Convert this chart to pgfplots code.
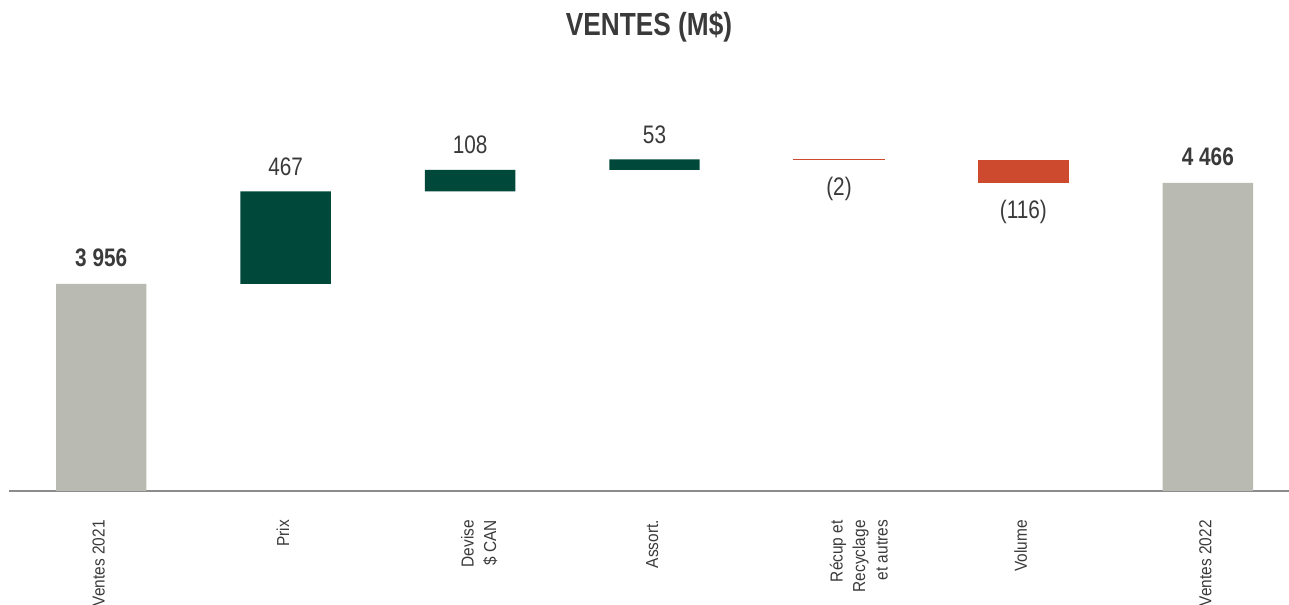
\documentclass[border=0pt]{standalone}
\usepackage{fontspec}
\setmainfont{Liberation Sans}[FakeStretch=0.82]
\newfontfamily\tickfont{Liberation Sans}[FakeStretch=0.89]
\usepackage{pgfplots}
\pgfplotsset{compat=1.18}
\usepackage{pgfplotstable}
\definecolor{barGray}{HTML}{B9BAB1}
\definecolor{barGreen}{HTML}{00483A}
\definecolor{barRed}{HTML}{CD4A2E}
\definecolor{txt}{HTML}{3A3A3A}
\definecolor{axisGray}{HTML}{8C8C8C}

% waterfall: b1/R = invisible base + thin red line (Récup), b2 = invisible base
\pgfplotstableread{
x b1   R b2   gray green red
0 0    0 0    3956 0     0
1 0    0 3956 0    467   0
2 0    0 4423 0    108   0
3 0    0 4531 0    53    0
4 4582 2 0    0    0     0
5 0    0 4466 0    0     116
6 0    0 0    4466 0     0
}\wf

\newcommand{\ml}[1]{\begin{tabular}[t]{@{}r@{}}#1\end{tabular}}

\pgfplotsset{
  common/.style={
    at={(0,0)}, anchor=south west,
    width=960pt, height=368.25pt, scale only axis,
    xmin=-0.5, xmax=6.44, ymin=2910, ymax=5389,
    enlargelimits=false,
  },
}
\tikzset{lbl/.style={font=\fontsize{19}{22}\selectfont, text=txt, inner sep=0pt, anchor=base}}

\begin{document}
\begin{tikzpicture}
\path[use as bounding box] (-6.75pt,-84.75pt) rectangle (960pt,368.25pt);
\begin{axis}[
  common,
  ybar stacked, bar width=0.49,
  axis x line*=bottom, axis y line=none,
  x axis line style={draw=axisGray, line width=1.1pt},
  xtick={0,...,6},
  xticklabels={Ventes 2021, Prix, {\ml{Devise\\\$ CAN}}, Assort., {\ml{Récup et\\Recyclage\\et autres}}, Volume, Ventes 2022},
  major tick length=0pt,
  xticklabel style={rotate=90, anchor=mid east, inner sep=0pt, xshift=-21.75pt,
    font=\tickfont\fontsize{13}{16.9}\selectfont, text=txt},
  title={VENTES (M\$)},
  title style={at={(0.5,1)}, anchor=base, yshift=-32.5pt, inner sep=0pt,
    font=\fontsize{24}{28}\selectfont\bfseries, text=txt},
]
\addplot[draw=none, fill=none] table[x=x, y=b1] {\wf};
\addplot[draw=barRed, fill=barRed, line width=0.6pt] table[x=x, y=R] {\wf};
\addplot[draw=none, fill=none] table[x=x, y=b2] {\wf};
\addplot[draw=none, fill=barGray] table[x=x, y=gray] {\wf};
\addplot[draw=none, fill=barGreen] table[x=x, y=green] {\wf};
\addplot[draw=none, fill=barRed] table[x=x, y=red] {\wf};
\end{axis}

\begin{axis}[common, hide axis, clip=false]
\addplot[only marks, mark=none, nodes near coords, point meta=explicit symbolic,
  nodes near coords style={lbl, yshift=12pt}]
  coordinates {(1,4423) [467] (2,4531) [108] (3,4584) [53]};
\addplot[only marks, mark=none, nodes near coords, point meta=explicit symbolic,
  nodes near coords style={lbl, yshift=-27pt}]
  coordinates {(4,4582) [(2)] (5,4466) [(116)]};
\addplot[only marks, mark=none, nodes near coords, point meta=explicit symbolic,
  nodes near coords style={lbl, yshift=12.75pt, font=\fontsize{19}{22}\selectfont\bfseries}]
  coordinates {(0,3956) [3 956] (6,4466) [4 466]};
\end{axis}
\end{tikzpicture}
\end{document}
